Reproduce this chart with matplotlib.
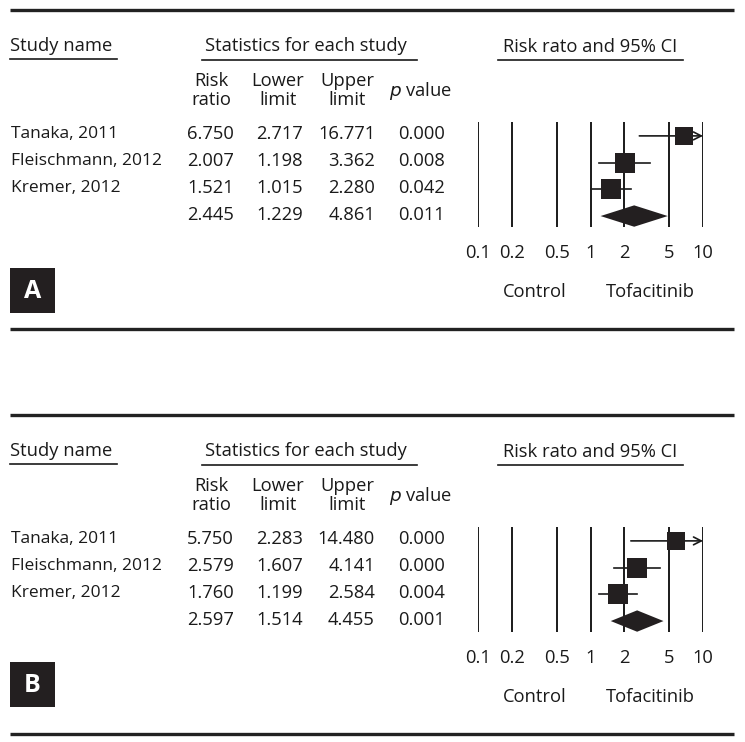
import matplotlib
matplotlib.use("Agg")
import matplotlib.pyplot as plt
from matplotlib.patches import Polygon, Rectangle

plt.rcParams['font.family'] = ['Open Sans', 'DejaVu Sans']

studies = ["Tanaka, 2011", "Fleischmann, 2012", "Kremer, 2012"]

# Panel A
rr_a = [6.750, 2.007, 1.521]
lo_a = [2.717, 1.198, 1.015]
hi_a = [16.771, 3.362, 2.280]
p_a = ["0.000", "0.008", "0.042"]
sum_a = [2.445, 1.229, 4.861]
sum_p_a = "0.011"
w_a = [0.85, 1.0, 0.98]

# Panel B
rr_b = [5.750, 2.579, 1.760]
lo_b = [2.283, 1.607, 1.199]
hi_b = [14.480, 4.141, 2.584]
p_b = ["0.000", "0.000", "0.004"]
sum_b = [2.597, 1.514, 4.455]
sum_p_b = "0.001"
w_b = [0.85, 1.02, 0.98]

ticks = [0.1, 0.2, 0.5, 1, 2, 5, 10]
tick_labels = ["0.1", "0.2", "0.5", "1", "2", "5", "10"]

W, H = 745, 742
fig = plt.figure(figsize=(W / 100, H / 100), dpi=100)
ax0 = fig.add_axes([0, 0, 1, 1])
ax0.set_xlim(0, W)
ax0.set_ylim(H, 0)
ax0.axis('off')

FS = 13.2
FS_NAME = 12.5
INK = '#1a1a1a'


def fmt(v):
    return f"{v:.3f}"


def panel(off, rr, lo, hi, pv, summ, sum_p, wts, letter, box_y):
    # top rule
    ax0.plot([10, 734], [10 + off, 10 + off], color='#222222', lw=2.4, solid_capstyle='butt')
    # headers
    ax0.text(10, 46 + off, "Study name", fontsize=FS, color=INK, va='center', ha='left')
    ax0.plot([10, 117], [58.5 + off, 58.5 + off], color=INK, lw=1.2)
    ax0.text(306, 46 + off, "Statistics for each study", fontsize=FS, color=INK, va='center', ha='center')
    ax0.plot([202, 417], [59.5 + off, 59.5 + off], color=INK, lw=1.2)
    ax0.text(590, 47 + off, "Risk rato and 95% CI", fontsize=FS, color=INK, va='center', ha='center')
    ax0.plot([498, 683], [59.5 + off, 59.5 + off], color=INK, lw=1.2)
    # column headers
    for cx, t1, t2 in [(211, "Risk", "ratio"), (278, "Lower", "limit"), (347, "Upper", "limit")]:
        ax0.text(cx, 81 + off, t1, fontsize=FS, color=INK, va='center', ha='center')
        ax0.text(cx, 100 + off, t2, fontsize=FS, color=INK, va='center', ha='center')
    ax0.text(421, 91 + off, r"$\mathit{p}$ value", fontsize=FS, color=INK, va='center', ha='center')
    # rows
    row_y = [134, 161, 188, 215]
    vals = list(zip(rr, lo, hi, pv)) + [(summ[0], summ[1], summ[2], sum_p)]
    for i, (r, l, h, p) in enumerate(vals):
        y = row_y[i] + off
        if i < len(studies):
            ax0.text(11, y, studies[i], fontsize=FS_NAME, color=INK, va='center', ha='left')
        ax0.text(234, y, fmt(r), fontsize=FS, color=INK, va='center', ha='right')
        ax0.text(303, y, fmt(l), fontsize=FS, color=INK, va='center', ha='right')
        ax0.text(375, y, fmt(h), fontsize=FS, color=INK, va='center', ha='right')
        ax0.text(445, y, p, fontsize=FS, color=INK, va='center', ha='right')
    # letter box
    ax0.add_patch(Rectangle((10, box_y), 45, 45, facecolor='#231f20', edgecolor='none'))
    ax0.text(32.5, box_y + 23, letter, fontsize=18, color='white', fontweight='bold',
             va='center', ha='center')
    # bottom rule
    ax0.plot([10, 734], [329 + off, 329 + off], color='#222222', lw=2.4, solid_capstyle='butt')

    # forest axes
    x0, x1 = 478, 703
    ytop, ybot = 122 + off, 227 + off
    ax = fig.add_axes([x0 / W, 1 - ybot / H, (x1 - x0) / W, (ybot - ytop) / H])
    ax.set_xscale('log')
    ax.set_xlim(0.1, 10)
    ax.set_ylim(3.41, -0.52)
    for s in ax.spines.values():
        s.set_visible(False)
    ax.set_yticks([])
    ax.set_xticks(ticks)
    ax.set_xticklabels(tick_labels, fontsize=FS, color=INK)
    ax.minorticks_off()
    ax.tick_params(axis='x', length=0, pad=12)
    ax.patch.set_alpha(0)
    for t in ticks:
        ax.axvline(t, color=INK, lw=1.4, zorder=1)
    for i in range(len(rr)):
        if hi[i] > 10:
            ax.annotate("", xy=(10, i), xytext=(lo[i], i),
                        arrowprops=dict(arrowstyle='->,head_length=0.55,head_width=0.28',
                                        color=INK, lw=1.2, shrinkA=0, shrinkB=0), zorder=2)
        else:
            ax.plot([lo[i], hi[i]], [i, i], color=INK, lw=1.2, zorder=2)
        ax.plot([rr[i]], [i], marker='s', markersize=14.5 * wts[i], color='#231f20',
                markeredgewidth=0, zorder=3, linestyle='none')
    yd = len(rr)
    dh = 0.40
    ax.add_patch(Polygon([(summ[1], yd), (summ[0], yd - dh), (summ[2], yd), (summ[0], yd + dh)],
                         closed=True, facecolor='#231f20', edgecolor='none', zorder=3))
    ax.text(0.253, -0.62, "Control", transform=ax.transAxes, fontsize=FS, color=INK,
            va='center', ha='center')
    ax.text(0.764, -0.62, "Tofacitinib", transform=ax.transAxes, fontsize=FS, color=INK,
            va='center', ha='center')


panel(0, rr_a, lo_a, hi_a, p_a, sum_a, sum_p_a, w_a, "A", 268)
panel(405, rr_b, lo_b, hi_b, p_b, sum_b, sum_p_b, w_b, "B", 662)

fig.savefig("out.png", dpi=100)
